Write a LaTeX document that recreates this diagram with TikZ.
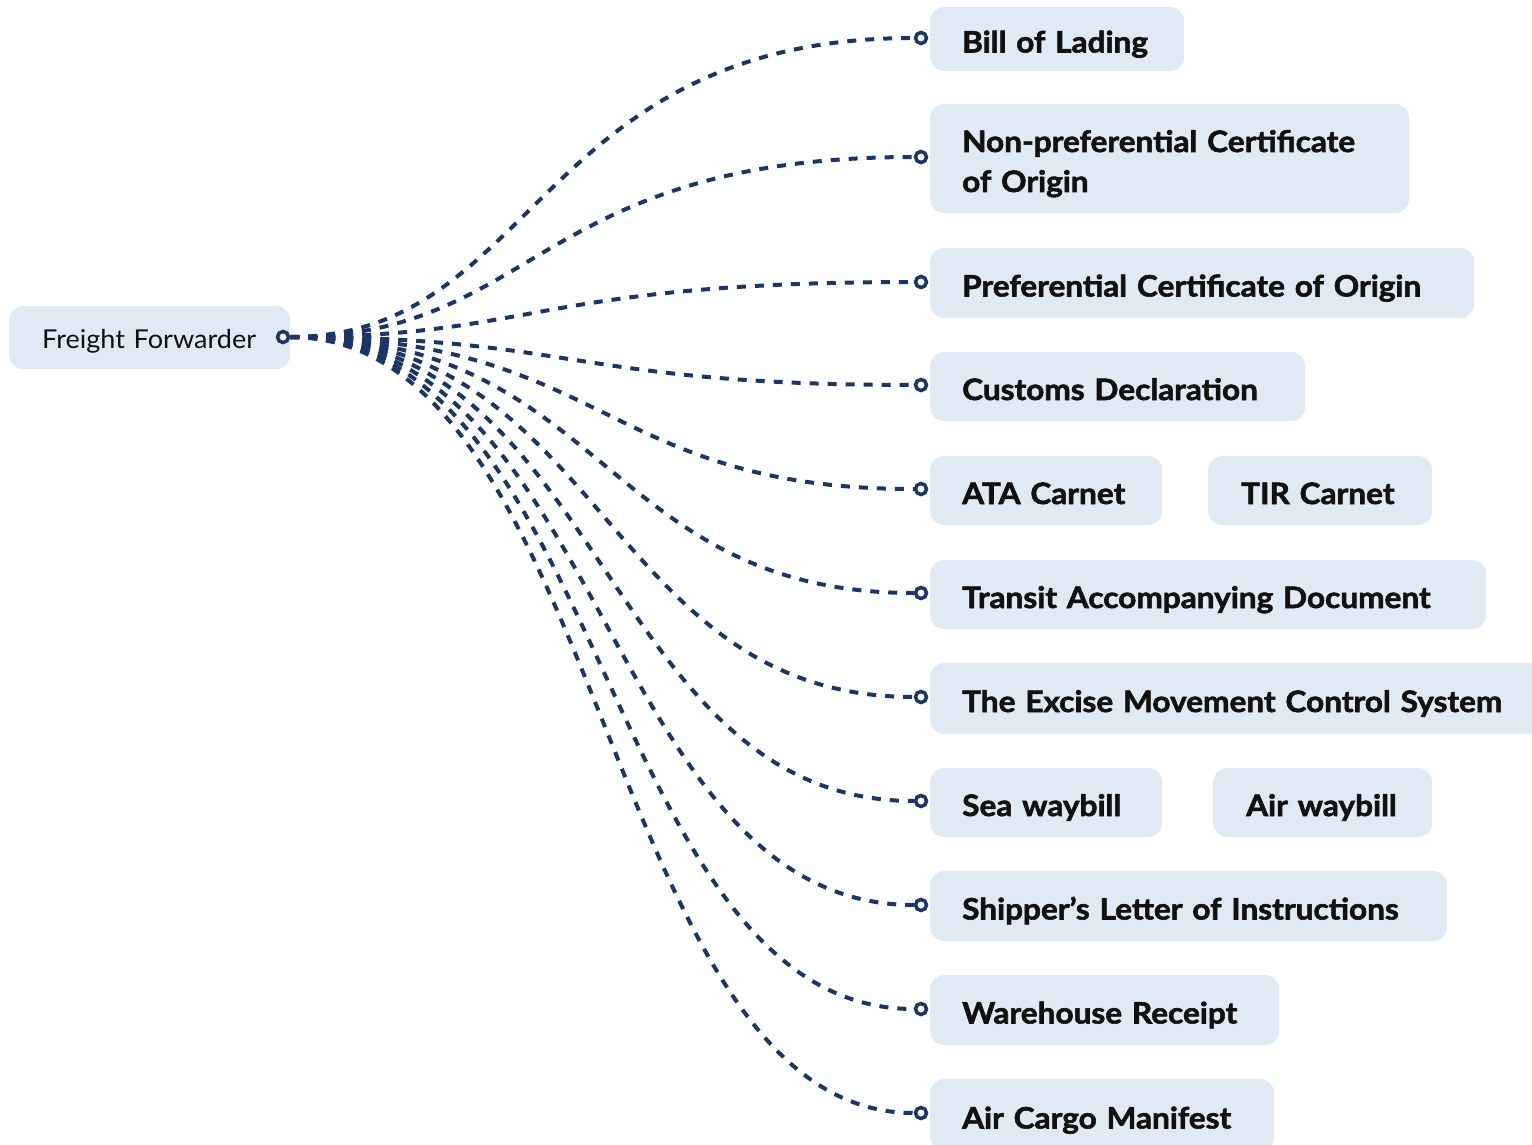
\documentclass[tikz,border=0pt]{standalone}
\usepackage{fontspec}
\setmainfont{Lato}
\newfontfamily\docfont{Lato Bold}[FakeBold=2,FakeStretch=1.07]
\newfontfamily\srcfont{Lato}[FakeStretch=1.04]
\usetikzlibrary{calc}
\pgfdeclarelayer{bg}
\pgfsetlayers{bg,main}
\definecolor{boxfill}{HTML}{E0EAF4}
\definecolor{navy}{HTML}{1B3564}
\definecolor{ink}{HTML}{111111}
\tikzset{
  docbox/.style={fill=boxfill, rounded corners=14pt, anchor=west, inner xsep=32pt, inner ysep=0pt,
    font=\docfont\fontsize{29.5}{40}\selectfont, align=left, minimum height=69pt, text=ink,
    text height=27pt, text depth=0pt},
  srcbox/.style={fill=boxfill, rounded corners=14pt, anchor=west, inner xsep=33pt, inner ysep=0pt,
    font=\srcfont\fontsize{26}{30}\selectfont, minimum height=63pt, text width=215pt, align=left, text=ink,
    text height=22pt, text depth=0pt},
  pin/.style={circle, draw=navy, line width=3.5pt, fill=white, inner sep=0pt, minimum size=11pt},
  link/.style={draw=navy, line width=4pt, dash pattern=on 9pt off 9pt},
}
\begin{document}
\begin{tikzpicture}[x=1pt,y=-1pt]
\useasboundingbox (0,0) rectangle (1532,1145);
% source
\node[srcbox] (ff) at (9,337.5) {\mbox{Freight Forwarder}};
\node[pin] (ffc) at (283,337) {};
% documents
\node[docbox, text width=190pt, minimum height=64pt] (b1) at (930,39) {\mbox{Bill of Lading}};
\node[docbox, text width=415pt, minimum height=109pt, text height=27pt, text depth=40pt] (b2) at (930,158.5) {\mbox{Non-preferential Certificate}\\\mbox{of Origin}};
\node[docbox, text width=480pt, minimum height=70pt] (b3) at (930,283) {\mbox{Preferential Certificate of Origin}};
\node[docbox, text width=311pt] (b4) at (930,386.5) {\mbox{Customs Declaration}};
\node[docbox, text width=168pt] (b5) at (930,490.5) {\mbox{ATA Carnet}};
\node[docbox, text width=158pt, inner xsep=33pt] (b5b) at (1208,490.5) {\mbox{TIR Carnet}};
\node[docbox, text width=492pt] (b6) at (930,594.5) {\mbox{Transit Accompanying Document}};
\node[docbox, text width=560pt, minimum height=71pt] (b7) at (930,698.5) {\mbox{The Excise Movement Control System}};
\node[docbox, text width=168pt] (b8) at (930,802.5) {\mbox{Sea waybill}};
\node[docbox, text width=153pt, inner xsep=33pt] (b8b) at (1213,802.5) {\mbox{Air waybill}};
\node[docbox, text width=453pt, minimum height=70pt] (b9) at (930,906) {\mbox{Shipper’s Letter of Instructions}};
\node[docbox, text width=285pt, minimum height=70pt] (b10) at (930,1010) {\mbox{Warehouse Receipt}};
\node[docbox, text width=280pt, minimum height=72pt] (b11) at (930,1115) {\mbox{Air Cargo Manifest}};
% pins
\foreach \n/\y in {1/38,2/157,3/282,4/385,5/489,6/593,7/697,8/801,9/905,10/1009,11/1113}{
  \node[pin] (c\n) at (921,\y) {};
}
% connectors
\begin{pgfonlayer}{bg}
\foreach \n/\cx in {1/536,2/536,3/536,4/575,5/605,6/605,7/605,8/605,9/605,10/605,11/605}{
  \pgfmathsetmacro{\ca}{\cx-289}
  \pgfmathsetmacro{\cb}{\cx-915}
  \draw[link] (ffc.east) .. controls +(\ca,0) and +(\cb,0) .. (c\n.west);
}
\end{pgfonlayer}
\end{tikzpicture}
\end{document}
